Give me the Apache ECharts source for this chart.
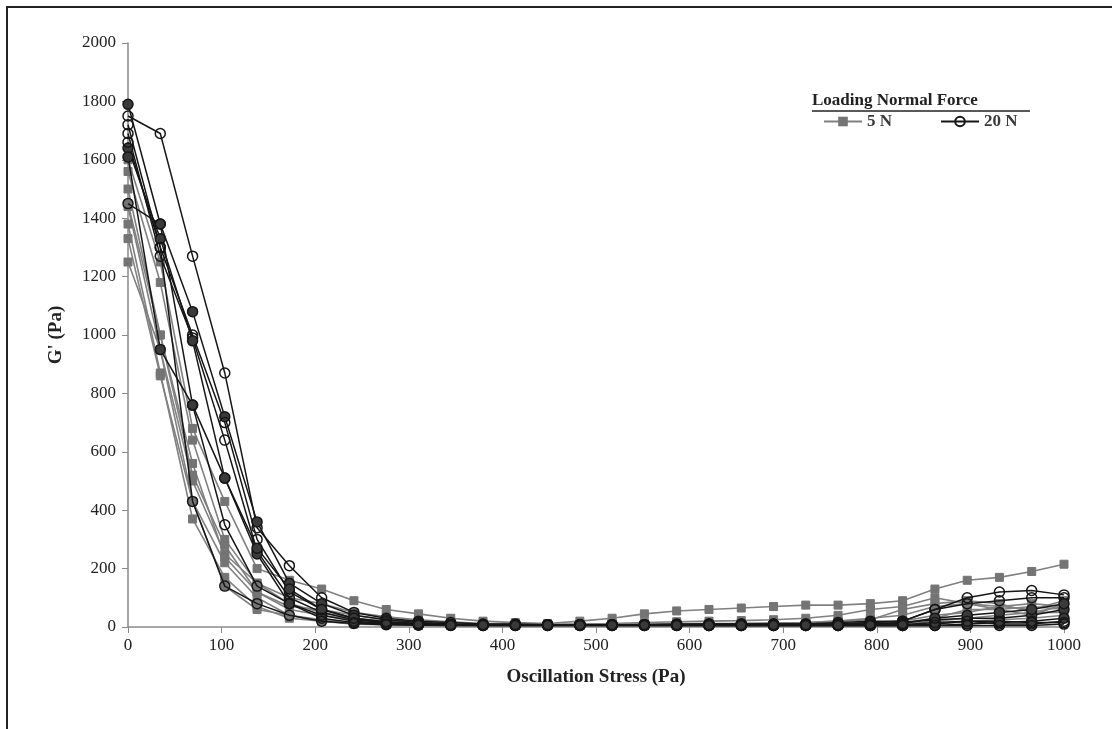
<!DOCTYPE html>
<html>
<head>
<meta charset="utf-8">
<script src="https://cdn.jsdelivr.net/npm/echarts@6/dist/echarts.min.js"></script>
<style>
  html, body { margin: 0; padding: 0; background: #fff; }
  #main { width: 1112px; height: 729px; }
</style>
</head>
<body>
<div id="main"></div>
<script>
// oscillation stress points (Pa)
const stress = [0, 34.5, 69, 103.4, 137.9, 172.4, 206.9, 241.4, 275.9, 310.3, 344.8, 379.3, 413.8, 448.3, 482.8,
  517.2, 551.7, 586.2, 620.7, 655.2, 689.7, 724.1, 758.6, 793.1, 827.6, 862.1, 896.6, 931, 965.5, 1000];

// 5 N runs
const g1 = [1600,1250,680,430,200,160,130,90,60,45,30,20,15,12,20,30,45,55,60,65,70,75,75,80,90,130,160,170,190,215];
const g2 = [1560,1180,640,300,150,100,80,50,35,25,18,12,10,8,10,12,15,18,20,22,25,30,40,60,70,100,80,70,60,90];
const g3 = [1500,1000,520,280,120,60,40,25,15,12,10,8,8,8,8,10,10,12,12,12,14,15,20,25,60,80,90,80,50,70];
const g4 = [1440,950,430,220,100,40,25,15,10,8,8,6,6,6,6,6,6,8,8,8,8,10,10,12,15,30,60,60,40,80];
const g5 = [1380,870,370,170,70,30,20,10,8,6,6,5,5,5,5,5,5,5,5,5,6,6,8,8,10,20,30,40,50,50];
const g6 = [1330,860,430,140,60,40,20,12,8,6,5,5,5,5,5,5,5,5,5,5,5,5,5,6,8,10,20,25,30,40];
const g7 = [1250,950,500,250,150,80,50,30,20,14,10,8,8,8,8,8,10,10,10,12,12,15,20,30,40,70,80,60,70,60];
const g8 = [1450,1000,560,240,120,70,60,40,25,18,12,10,8,8,8,8,8,8,8,8,10,10,12,15,20,40,50,70,80,70];

// 20 N runs
const b1 = [1750,1690,1270,870,340,210,100,50,30,20,15,10,10,8,8,8,8,10,10,10,10,10,15,20,20,60,100,120,125,110];
const b2 = [1790,1380,1080,720,360,150,80,40,25,15,10,8,8,8,8,8,8,8,10,10,10,10,10,10,15,25,30,30,40,60];
const b3 = [1720,1300,1000,700,300,120,60,30,15,10,8,8,8,8,8,8,8,8,8,8,8,8,10,15,20,60,80,90,100,100];
const b4 = [1690,1270,990,640,260,100,50,25,15,10,8,6,6,6,6,6,6,6,5,5,5,5,5,5,5,10,20,10,10,20];
const b5 = [1640,1330,980,510,250,80,40,20,12,8,6,5,5,5,5,5,5,5,5,5,5,5,5,5,5,5,10,15,20,30];
const b6 = [1610,950,760,510,270,130,60,30,18,12,8,8,8,8,8,8,8,8,8,8,8,8,8,10,12,30,40,50,60,80];
const b7 = [1450,1380,760,350,140,80,30,15,10,8,6,6,6,6,6,6,6,6,6,6,6,6,6,6,8,15,20,20,15,15];
const b8 = [1660,1300,430,140,80,40,20,12,8,6,5,5,5,5,5,5,5,5,5,5,5,5,5,5,5,5,5,5,5,10];

const grayRuns = [g1, g2, g3, g4, g5, g6, g7, g8];
const blackRuns = [
  { data: b1, filled: false }, { data: b2, filled: true }, { data: b3, filled: false }, { data: b4, filled: false },
  { data: b5, filled: true }, { data: b6, filled: true }, { data: b7, filled: false }, { data: b8, filled: false }
];

const serif = '"Liberation Serif", "DejaVu Serif", serif';

function pairs(vals) {
  return vals.map((v, i) => [stress[i], v]);
}

let series = [];
grayRuns.forEach(run => {
  series.push({
    name: '5 N',
    type: 'line',
    data: pairs(run),
    symbol: 'rect',
    symbolSize: 8,
    lineStyle: { color: '#808080', width: 1.6 },
    itemStyle: { color: '#747474', borderColor: '#747474' },
    z: 2
  });
});
blackRuns.forEach(run => {
  series.push({
    name: '20 N',
    type: 'line',
    data: pairs(run.data),
    symbol: 'circle',
    symbolSize: 10,
    lineStyle: { color: '#161616', width: 1.5 },
    itemStyle: { color: run.filled ? '#3a3a3a' : 'rgba(255,255,255,0)', borderColor: '#161616', borderWidth: 1.5 },
    z: 3
  });
});

let chart = echarts.init(document.getElementById('main'));
chart.setOption({
  animation: false,
  backgroundColor: '#fff',
  grid: { left: 128, right: 48, top: 43, bottom: 102 },
  legend: {
    data: ['5 N', '20 N'],
    left: 818,
    top: 108,
    itemWidth: 38,
    itemHeight: 12,
    itemGap: 48,
    textStyle: { fontFamily: serif, fontWeight: 'bold', fontSize: 17, color: '#3a3a3a' }
  },
  xAxis: {
    type: 'value',
    min: 0,
    max: 1000,
    interval: 100,
    name: 'Oscillation Stress (Pa)',
    nameLocation: 'middle',
    nameGap: 41,
    nameTextStyle: { fontFamily: serif, fontWeight: 'bold', fontSize: 19, color: '#222' },
    axisLine: { lineStyle: { color: '#8a8a8a', width: 1.5 } },
    axisTick: { show: true, inside: false, length: 6, lineStyle: { color: '#8a8a8a' } },
    axisLabel: { fontFamily: serif, fontSize: 17, color: '#222', margin: 10, formatter: v => String(v) },
    splitLine: { show: false }
  },
  yAxis: {
    type: 'value',
    min: 0,
    max: 2000,
    interval: 200,
    name: "G' (Pa)",
    nameLocation: 'middle',
    nameGap: 62,
    nameRotate: 90,
    nameTextStyle: { fontFamily: serif, fontWeight: 'bold', fontSize: 19, color: '#222' },
    axisLine: { show: true, lineStyle: { color: '#8a8a8a', width: 1.5 } },
    axisTick: { show: true, inside: false, length: 6, lineStyle: { color: '#8a8a8a' } },
    axisLabel: { fontFamily: serif, fontSize: 17, color: '#222', margin: 12, formatter: v => String(v) },
    splitLine: { show: false }
  },
  graphic: [
    {
      type: 'rect',
      shape: { x: 7, y: 7, width: 1130, height: 760 },
      style: { fill: 'none', stroke: '#222', lineWidth: 2 },
      silent: true
    },
    {
      type: 'text',
      left: 812,
      top: 92,
      style: { text: 'Loading Normal Force', fontFamily: serif, fontWeight: 'bold', fontSize: 17, fill: '#222' }
    },
    {
      type: 'line',
      shape: { x1: 812, y1: 111, x2: 1030, y2: 111 },
      style: { stroke: '#222', lineWidth: 1.5 }
    }
  ],
  series: series
});
</script>
</body>
</html>
